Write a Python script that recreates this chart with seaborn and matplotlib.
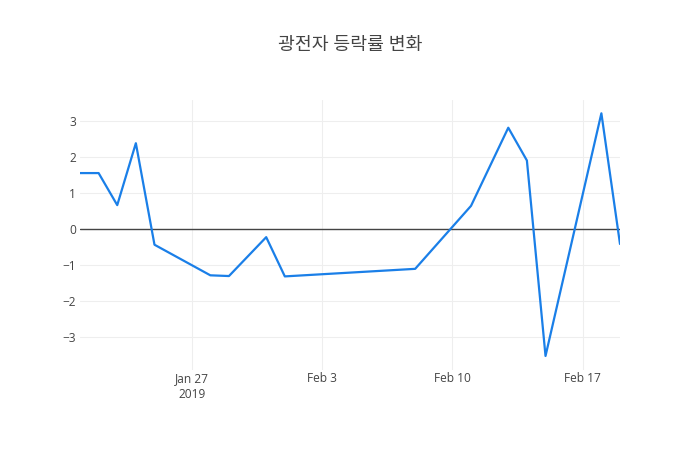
import pandas as pd
import matplotlib.pyplot as plt
import seaborn as sns

# === DATA ===
dates = ["2019-01-21", "2019-01-22", "2019-01-23", "2019-01-24", "2019-01-25",
         "2019-01-28", "2019-01-29", "2019-01-31", "2019-02-01", "2019-02-08",
         "2019-02-11", "2019-02-13", "2019-02-14", "2019-02-15", "2019-02-18",
         "2019-02-19"]
change_pct = [1.55, 1.55, 0.66, 2.38, -0.44,
              -1.29, -1.31, -0.23, -1.32, -1.11,
              0.64, 2.81, 1.90, -3.53, 3.21,
              -0.42]
tick_dates = ["2019-01-27", "2019-02-03", "2019-02-10", "2019-02-17"]
tick_labels = ["Jan 27\n2019", "Feb 3", "Feb 10", "Feb 17"]
title = "광전자 등락률 변화"

df = pd.DataFrame({"date": pd.to_datetime(dates), "change": change_pct})

sns.set_theme(style="white")
plt.rcParams["font.family"] = ["Open Sans", "Noto Sans CJK KR", "DejaVu Sans"]

fig = plt.figure(figsize=(7, 4.5), dpi=100)
ax = fig.add_axes([80 / 700, 80 / 450, 540 / 700, 270 / 450])

# grid + zero line
ax.grid(True, color="#eeeeee", linewidth=0.8)
ax.set_axisbelow(True)
ax.axhline(0, color="#444444", linewidth=1, zorder=1)

sns.lineplot(data=df, x="date", y="change", color="#1a7fe8", linewidth=1.6,
             ax=ax, zorder=3)

ax.set_xlim(df["date"].min(), df["date"].max())
ax.set_ylim(-3.92, 3.58)
ax.set_xticks(pd.to_datetime(tick_dates))
ax.set_xticklabels(tick_labels, linespacing=1.25)
ax.set_yticks([-3, -2, -1, 0, 1, 2, 3])
ax.set_yticklabels(["\u22123", "\u22122", "\u22121", "0", "1", "2", "3"])
ax.tick_params(axis="both", length=0, labelsize=8.6, labelcolor="#444444")
ax.tick_params(axis="x", pad=1.5)
ax.tick_params(axis="y", pad=3)
for s in ax.spines.values():
    s.set_visible(False)
ax.set_xlabel("")
ax.set_ylabel("")

fig.text(0.5, 1 - 45 / 450, title, ha="center", va="center",
         fontsize=13.2, color="#444444")

fig.savefig("out.png", dpi=100)
